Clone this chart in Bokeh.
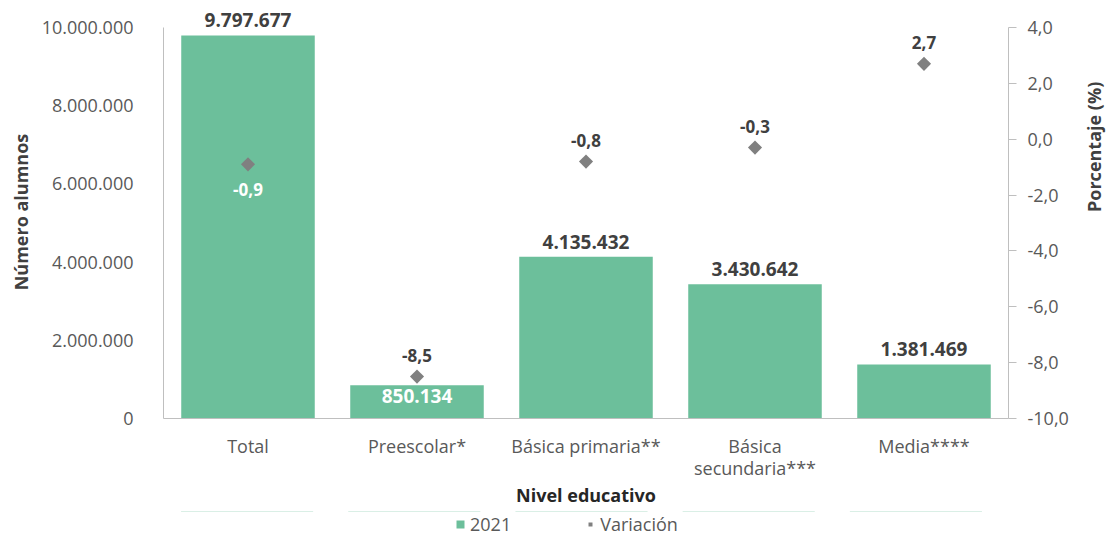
import math
from bokeh.plotting import figure
from bokeh.layouts import column
from bokeh.models import (ColumnDataSource, FactorRange, Range1d, LinearAxis, FixedTicker,
                          Legend, LegendItem)
from bokeh.core.properties import value
from bokeh.embed import file_html
from bokeh.resources import INLINE

# ---- data ----
categories = ["Total", "Preescolar*", "Básica primaria**", "Básica\nsecundaria***", "Media****"]
alumnos_2021 = [9797677, 850134, 4135432, 3430642, 1381469]
variacion = [-0.9, -8.5, -0.8, -0.3, 2.7]
left_ticks = [0, 2000000, 4000000, 6000000, 8000000, 10000000]
left_tick_labels = ["0", "2.000.000", "4.000.000", "6.000.000", "8.000.000", "10.000.000"]
right_ticks = [-10, -8, -6, -4, -2, 0, 2, 4]
right_tick_labels = ["-10,0", "-8,0", "-6,0", "-4,0", "-2,0", "0,0", "2,0", "4,0"]
series_names = ["2021", "Variación"]


def miles(v):
    return f"{v:,}".replace(",", ".")


def coma(v):
    return f"{v:.1f}".replace(".", ",")


FONT = "Open Sans"
BAR_COLOR = "#6cbf9b"
DIAMOND_COLOR = "#808080"
AXIS_COLOR = "#bfbfbf"
TICK_TEXT = "#595959"
DARK = "#404040"

# axis extents (ticks span 0..10M and -10..4); the frame is a bit taller so that
# the label above the tallest bar is not clipped
L0, L1 = left_ticks[0], left_ticks[-1]
R0, R1 = right_ticks[0], right_ticks[-1]
AXIS_PX = 391
FRAME_PX = 413
ext = FRAME_PX / AXIS_PX

p = figure(frame_width=845, frame_height=FRAME_PX,
           x_range=FactorRange(factors=categories, range_padding=0),
           y_range=Range1d(L0, L0 + (L1 - L0) * ext), output_backend="svg",
           toolbar_location=None,
           min_border_left=163, min_border_right=103, min_border_top=5, min_border_bottom=93)
p.extra_y_ranges = {"pct": Range1d(R0, R0 + (R1 - R0) * ext)}
p.outline_line_color = None
p.xgrid.grid_line_color = None
p.ygrid.grid_line_color = None
p.background_fill_color = "white"

bar_src = ColumnDataSource(dict(x=categories, y=alumnos_2021))
bars = p.vbar(x="x", top="y", width=0.79, source=bar_src, color=BAR_COLOR, line_color=None)

# bar value labels: above bars except the small one (inside, white)
inside = [i for i, v in enumerate(alumnos_2021) if v < 1000000]
above = [i for i in range(len(alumnos_2021)) if i not in inside]
src_above = ColumnDataSource(dict(x=[categories[i] for i in above],
                                  y=[alumnos_2021[i] for i in above],
                                  t=[miles(alumnos_2021[i]) for i in above]))
src_inside = ColumnDataSource(dict(x=[categories[i] for i in inside],
                                   y=[alumnos_2021[i] for i in inside],
                                   t=[miles(alumnos_2021[i]) for i in inside]))
p.text(x="x", y="y", text="t", source=src_above, text_align="center", text_baseline="middle",
       y_offset=-15, text_font=value(FONT), text_font_size="19px", text_font_style="bold",
       text_color=DARK)
p.text(x="x", y="y", text="t", source=src_inside, text_align="center", text_baseline="middle",
       y_offset=11, text_font=value(FONT), text_font_size="19px", text_font_style="bold",
       text_color="white")

# variation diamonds (rotated squares)
var_src = ColumnDataSource(dict(x=categories, y=variacion))
diam = p.scatter(x="x", y="y", source=var_src, marker="square", angle=math.pi / 4, size=10,
                 color=DIAMOND_COLOR, line_color=None, y_range_name="pct")

below_idx = [0]
above_idx = [i for i in range(len(variacion)) if i not in below_idx]
vs_above = ColumnDataSource(dict(x=[categories[i] for i in above_idx],
                                 y=[variacion[i] for i in above_idx],
                                 t=[coma(variacion[i]) for i in above_idx]))
vs_below = ColumnDataSource(dict(x=[categories[i] for i in below_idx],
                                 y=[variacion[i] for i in below_idx],
                                 t=[coma(variacion[i]) for i in below_idx]))
p.text(x="x", y="y", text="t", source=vs_above, y_range_name="pct", text_align="center",
       text_baseline="middle", y_offset=-21, text_font=value(FONT), text_font_size="17px",
       text_font_style="bold", text_color=DARK)
p.text(x="x", y="y", text="t", source=vs_below, y_range_name="pct", text_align="center",
       text_baseline="middle", y_offset=25, text_font=value(FONT), text_font_size="17px",
       text_font_style="bold", text_color="white")

# left axis
ya = p.yaxis[0]
ya.ticker = FixedTicker(ticks=left_ticks)
ya.bounds = (L0, L1)
ya.major_label_overrides = {t: l for t, l in zip(left_ticks, left_tick_labels)}
ya.axis_label = "Número alumnos"
ya.axis_label_text_font = FONT
ya.axis_label_text_font_size = "18px"
ya.axis_label_text_font_style = "bold"
ya.axis_label_text_color = DARK
ya.axis_label_standoff = 6
ya.major_label_text_font = FONT
ya.major_label_text_font_size = "18px"
ya.major_label_text_color = TICK_TEXT
ya.major_label_standoff = 24
ya.major_tick_line_color = None
ya.minor_tick_line_color = None
ya.axis_line_color = AXIS_COLOR

# right axis
ra = LinearAxis(y_range_name="pct", ticker=FixedTicker(ticks=right_ticks), bounds=(R0, R1))
ra.major_label_overrides = {t: l for t, l in zip(right_ticks, right_tick_labels)}
ra.major_label_text_font = FONT
ra.major_label_text_font_size = "18px"
ra.major_label_text_color = TICK_TEXT
ra.major_label_standoff = 11
ra.major_tick_in = 0
ra.major_tick_out = 8
ra.major_tick_line_color = AXIS_COLOR
ra.minor_tick_line_color = None
ra.axis_line_color = AXIS_COLOR
p.add_layout(ra, "right")

# right axis title (bottom-to-top), carried by a bare axis
TITLE_CENTER = -4.9
ta = LinearAxis(y_range_name="pct", ticker=FixedTicker(ticks=[]),
                bounds=(R0, 2 * TITLE_CENTER - R0))
ta.axis_line_color = None
ta.major_tick_line_color = None
ta.minor_tick_line_color = None
ta.major_tick_out = 0
ta.major_label_standoff = 0
ta.axis_label = "Porcentaje (%)"
ta.axis_label_text_font = FONT
ta.axis_label_text_font_size = "18px"
ta.axis_label_text_font_style = "bold"
ta.axis_label_text_color = DARK
ta.axis_label_standoff = 22
if "axis_label_orientation" in ta.properties():
    ta.axis_label_orientation = math.pi / 2
p.add_layout(ta, "right")

# x axis
xa = p.xaxis[0]
xa.axis_label = "Nivel educativo"
xa.axis_label_text_font = FONT
xa.axis_label_text_font_size = "18px"
xa.axis_label_text_font_style = "bold"
xa.axis_label_text_color = "#262626"
xa.axis_label_standoff = 0
xa.major_label_text_font = FONT
xa.major_label_text_font_size = "18px"
xa.major_label_text_color = TICK_TEXT
xa.major_label_text_line_height = 0.95
xa.major_label_standoff = 9
xa.major_tick_line_color = None
xa.axis_line_color = AXIS_COLOR

# legend strip below the chart (series placed outside its visible range, zero-height
# bars, so only the legend entries show)
lf = figure(width=1111, height=26, x_range=FactorRange(factors=categories),
            y_range=Range1d(-100, -50), output_backend="svg", toolbar_location=None,
            min_border=0)
lf.axis.visible = False
lf.grid.visible = False
lf.outline_line_color = None
lg_bar = lf.vbar(x=categories, top=alumnos_2021, bottom=alumnos_2021, width=0.79,
                 color=BAR_COLOR, line_color=None)
lg_dia = lf.scatter(x=categories, y=variacion, marker="square", angle=math.pi / 4, size=8,
                    color=DIAMOND_COLOR, line_color=None)
legend = Legend(items=[LegendItem(label=series_names[0], renderers=[lg_bar]),
                       LegendItem(label=series_names[1], renderers=[lg_dia])],
                orientation="horizontal", location=(292, 1), border_line_color=None,
                label_text_font=FONT, label_text_font_size="18px", label_text_color=TICK_TEXT,
                glyph_width=10, glyph_height=10, spacing=74, padding=0, margin=0,
                label_standoff=5, label_height=18, background_fill_alpha=0)
lf.add_layout(legend, "center")

layout = column(p, lf, spacing=0)
open("out.html", "w").write(file_html(layout, INLINE))
